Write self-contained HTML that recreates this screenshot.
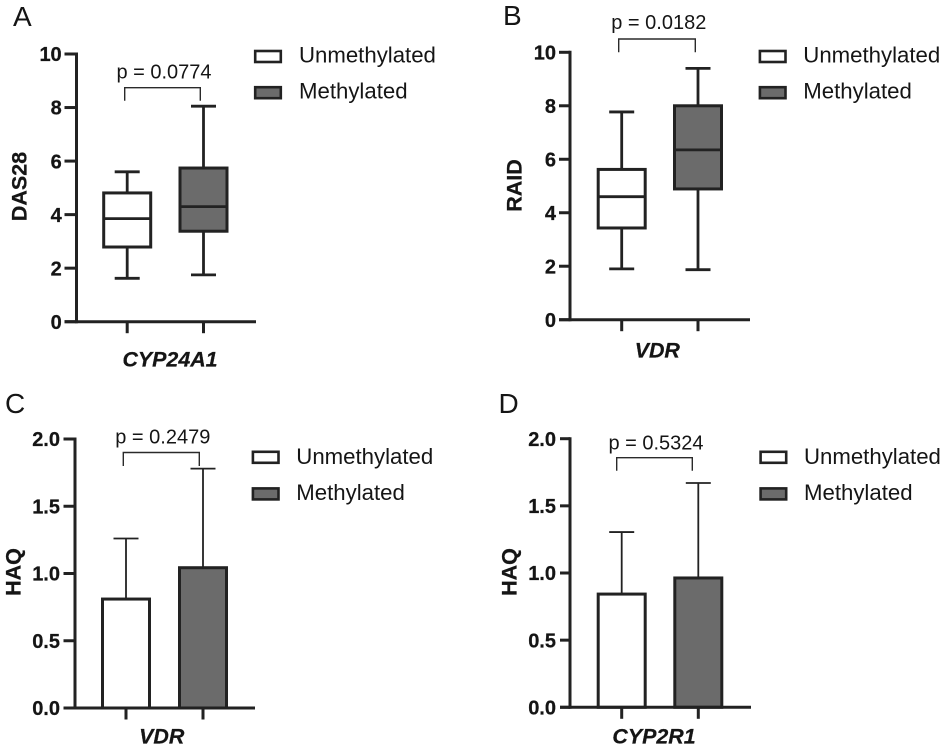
<!DOCTYPE html>
<html lang="en">
<head>
<meta charset="utf-8">
<title>Methylation box and bar charts</title>
<style>
html,body{margin:0;padding:0;background:#fff;}
svg{display:block;}
text{font-family:"Liberation Sans",Arial,sans-serif;fill:#151515;}
.panel{font-size:28px;}
.leg{font-size:22.2px;}
.p{font-size:20px;}
.axt{font-size:21.5px;font-weight:bold;stroke:#151515;stroke-width:.25px;}
.xt{font-size:21.4px;font-weight:bold;font-style:italic;stroke:#151515;stroke-width:.25px;}
</style>
</head>
<body>
<svg id="figure" width="945" height="755" viewBox="0 0 945 755" xmlns="http://www.w3.org/2000/svg">
<rect width="945" height="755" fill="#fff"/>

<text class="panel" x="13" y="26">A</text>
<text class="panel" x="503" y="25">B</text>
<text class="panel" x="5" y="413">C</text>
<text class="panel" x="498.5" y="413">D</text>

<text class="axt" transform="translate(26.7,186.5) rotate(-90)" text-anchor="middle">DAS28</text>
<text class="axt" transform="translate(521.7,185.5) rotate(-90)" text-anchor="middle">RAID</text>
<text class="axt" transform="translate(20.7,572) rotate(-90)" text-anchor="middle">HAQ</text>
<text class="axt" transform="translate(516.7,572) rotate(-90)" text-anchor="middle">HAQ</text>

<text class="xt" x="170" y="366.5" text-anchor="middle">CYP24A1</text>
<text class="xt" x="657.3" y="357.5" text-anchor="middle">VDR</text>
<text class="xt" x="161.7" y="743.3" text-anchor="middle">VDR</text>
<text class="xt" x="654" y="743.3" text-anchor="middle">CYP2R1</text>

<text class="p" x="164" y="78.3" text-anchor="middle">p = 0.0774</text>
<text class="p" x="658.8" y="29" text-anchor="middle">p = 0.0182</text>
<text class="p" x="162.8" y="443.3" text-anchor="middle">p = 0.2479</text>
<text class="p" x="656" y="449.3" text-anchor="middle">p = 0.5324</text>

<g fill="none" stroke="#2a2a2a" stroke-width="1.4">
<path d="M124.7 100.7V87.7H200.3V100.7"/>
<path d="M618.7 52.3V39H695.3V52.3"/>
<path d="M123.3 466V452.5H199.3V466"/>
<path d="M616.7 470.7V457.7H692.3V470.7"/>
</g>

<g>
<rect x="255.2" y="51" width="25.6" height="11" fill="#fff" stroke="#222" stroke-width="2.6"/>
<text class="leg" x="299" y="62.7">Unmethylated</text>
<rect x="255.2" y="87.2" width="25.6" height="11" fill="#6b6b6b" stroke="#222" stroke-width="2.6"/>
<text class="leg" x="299" y="98.7">Methylated</text>
</g>
<g>
<rect x="759.9" y="51" width="25.6" height="11" fill="#fff" stroke="#222" stroke-width="2.6"/>
<text class="leg" x="803.3" y="62.7">Unmethylated</text>
<rect x="759.9" y="87.2" width="25.6" height="11" fill="#6b6b6b" stroke="#222" stroke-width="2.6"/>
<text class="leg" x="803.3" y="98.7">Methylated</text>
</g>
<g>
<rect x="252.9" y="451.8" width="25.6" height="11" fill="#fff" stroke="#222" stroke-width="2.6"/>
<text class="leg" x="296.3" y="464">Unmethylated</text>
<rect x="252.9" y="488.4" width="25.6" height="11" fill="#6b6b6b" stroke="#222" stroke-width="2.6"/>
<text class="leg" x="296.3" y="500">Methylated</text>
</g>
<g>
<rect x="760.6" y="451.8" width="25.6" height="11" fill="#fff" stroke="#222" stroke-width="2.6"/>
<text class="leg" x="804" y="464">Unmethylated</text>
<rect x="760.6" y="488.4" width="25.6" height="11" fill="#6b6b6b" stroke="#222" stroke-width="2.6"/>
<text class="leg" x="804" y="500">Methylated</text>
</g>
</svg>

<script>
// Box values are [min, q1, median, q3, max]
const dasUnmethylated = [1.62, 2.79, 3.85, 4.81, 5.60];
const dasMethylated = [1.75, 3.38, 4.30, 5.74, 8.05];
const raidUnmethylated = [1.90, 3.43, 4.60, 5.62, 7.77];
const raidMethylated = [1.87, 4.89, 6.35, 8.00, 9.40];

// Bar values are [mean, upper error]
const haqVdrUnmethylated = [0.81, 1.26];
const haqVdrMethylated = [1.043, 1.78];
const haqCypUnmethylated = [0.843, 1.305];
const haqCypMethylated = [0.963, 1.67];

const wholeTicks = ['0', '2', '4', '6', '8', '10'];
const decimalTicks = ['0.0', '0.5', '1.0', '1.5', '2.0'];

const svg = document.getElementById('figure');
const NS = 'http://www.w3.org/2000/svg';
const INK = '#222222';
const GREY = '#6b6b6b';

function make(tag, attrs, name, parent) {
  const el = document.createElementNS(NS, tag);
  for (const k in attrs) el.setAttribute(k, attrs[k]);
  
  
  parent.appendChild(el);
  return el;
}

function segment(x1, y1, x2, y2, width, name, parent) {
  return make('line', {x1: x1, y1: y1, x2: x2, y2: y2, stroke: INK, 'stroke-width': width}, name, parent);
}

function yAxisScale(frame, maxValue) {
  return function (v) {
    return frame.y0 - (v / maxValue) * (frame.y0 - frame.yTop);
  };
}

function drawAxes(id, frame, ticks, y) {
  const g = make('g', {}, 'axes-' + id, svg);
  segment(frame.x, frame.yTop - 1.5, frame.x, frame.y0 + 1.5, 3, 'y-axis-' + id, g);
  segment(frame.tickLeft, frame.y0, frame.xEnd, frame.y0, 3, 'x-axis-' + id, g);
  ticks.forEach(function (label) {
    const v = parseFloat(label);
    segment(frame.tickLeft, y(v), frame.x, y(v), 3, 'y-tick-' + id + '-' + label, g);
    const t = make('text', {
      x: frame.labelRight, y: y(v) + 7.2, 'text-anchor': 'end',
      'font-size': 20, 'font-weight': 'bold', stroke: '#151515', 'stroke-width': 0.25
    }, 'y-tick-label-' + id + '-' + label, g);
    t.textContent = label;
  });
  frame.centers.forEach(function (cx, i) {
    segment(cx, frame.y0, cx, frame.y0 + 11.5, 3, 'x-tick-' + id + '-' + (i + 1), g);
  });
}

function drawBox(id, series, values, cx, fill, y) {
  const g = make('g', {}, 'box-' + series + '-' + id, svg);
  const half = 23.5;
  const capHalf = 12.5;
  const [min, q1, med, q3, max] = values;
  segment(cx, y(max), cx, y(q3), 2.8, 'whisker-upper-' + series + '-' + id, g);
  segment(cx, y(q1), cx, y(min), 2.8, 'whisker-lower-' + series + '-' + id, g);
  segment(cx - capHalf, y(max), cx + capHalf, y(max), 2.8, 'cap-upper-' + series + '-' + id, g);
  segment(cx - capHalf, y(min), cx + capHalf, y(min), 2.8, 'cap-lower-' + series + '-' + id, g);
  make('rect', {
    x: cx - half, y: y(q3), width: half * 2, height: y(q1) - y(q3),
    fill: fill, stroke: INK, 'stroke-width': 3
  }, 'box-iqr-' + series + '-' + id, g);
  segment(cx - half, y(med), cx + half, y(med), 2.8, 'median-' + series + '-' + id, g);
}

function drawBar(id, series, values, cx, fill, y, y0) {
  const g = make('g', {}, 'bar-group-' + series + '-' + id, svg);
  const half = 23.5;
  const capHalf = 12.5;
  const [mean, upper] = values;
  segment(cx, y(upper), cx, y(mean), 1.8, 'error-bar-' + series + '-' + id, g);
  segment(cx - capHalf, y(upper), cx + capHalf, y(upper), 1.8, 'error-cap-' + series + '-' + id, g);
  make('rect', {
    x: cx - half, y: y(mean), width: half * 2, height: y0 - y(mean),
    fill: fill, stroke: INK, 'stroke-width': 3
  }, 'bar-' + series + '-' + id, g);
}

const frameA = {x: 76.5, yTop: 54, y0: 321.7, xEnd: 256, tickLeft: 64.5, labelRight: 61.7, centers: [127.2, 203.5]};
const frameB = {x: 570, yTop: 52.3, y0: 319.7, xEnd: 750, tickLeft: 559, labelRight: 556, centers: [621.7, 698]};
const frameC = {x: 75, yTop: 439, y0: 708, xEnd: 255, tickLeft: 63.5, labelRight: 60, centers: [126, 203]};
const frameD = {x: 570, yTop: 438.7, y0: 707.3, xEnd: 751, tickLeft: 560, labelRight: 556, centers: [621.7, 698.3]};

const yA = yAxisScale(frameA, 10);
const yB = yAxisScale(frameB, 10);
const yC = yAxisScale(frameC, 2);
const yD = yAxisScale(frameD, 2);

drawBox('a', 'unmethylated', dasUnmethylated, frameA.centers[0], '#ffffff', yA);
drawBox('a', 'methylated', dasMethylated, frameA.centers[1], GREY, yA);
drawBox('b', 'unmethylated', raidUnmethylated, frameB.centers[0], '#ffffff', yB);
drawBox('b', 'methylated', raidMethylated, frameB.centers[1], GREY, yB);
drawBar('c', 'unmethylated', haqVdrUnmethylated, frameC.centers[0], '#ffffff', yC, frameC.y0);
drawBar('c', 'methylated', haqVdrMethylated, frameC.centers[1], GREY, yC, frameC.y0);
drawBar('d', 'unmethylated', haqCypUnmethylated, frameD.centers[0], '#ffffff', yD, frameD.y0);
drawBar('d', 'methylated', haqCypMethylated, frameD.centers[1], GREY, yD, frameD.y0);

drawAxes('a', frameA, wholeTicks, yA);
drawAxes('b', frameB, wholeTicks, yB);
drawAxes('c', frameC, decimalTicks, yC);
drawAxes('d', frameD, decimalTicks, yD);
</script>
</body>
</html>
